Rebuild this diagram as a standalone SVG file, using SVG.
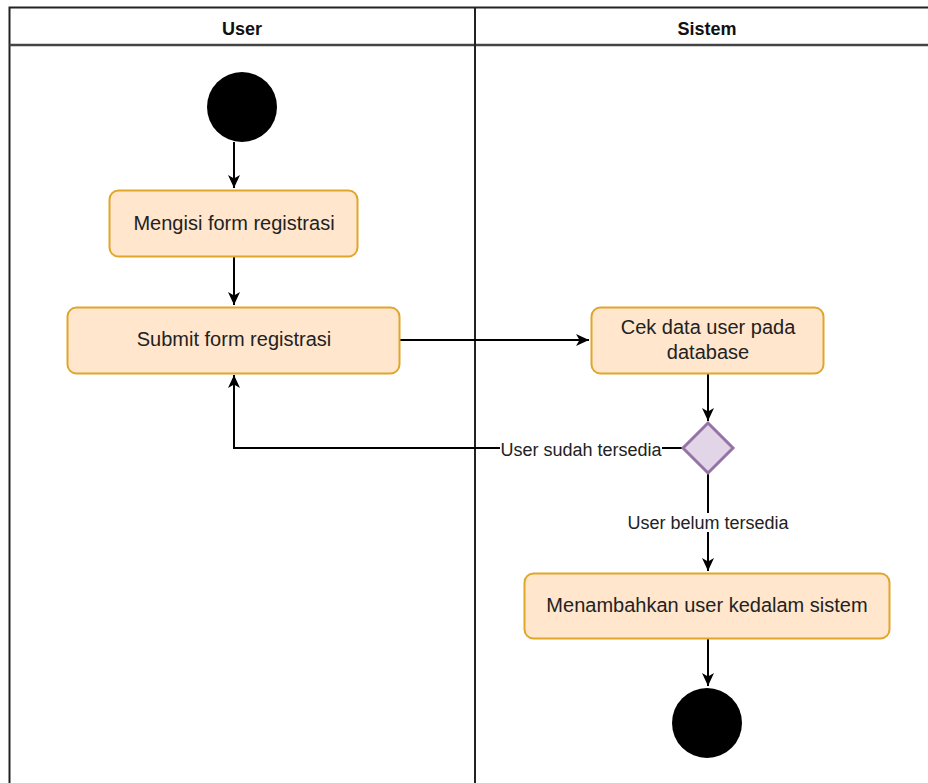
<svg xmlns="http://www.w3.org/2000/svg" width="928" height="783" viewBox="0 0 928 783">
<defs>
<style>
.lane{fill:none;stroke:#222;stroke-width:2}
.hdr{font-family:"Liberation Sans",Arial,sans-serif;font-size:18px;font-weight:bold;fill:#111;text-anchor:middle}
.act{fill:#ffe6cc;stroke:#e0a62a;stroke-width:2}
.txt{font-family:"Liberation Sans",Arial,sans-serif;font-size:20px;fill:#222;text-anchor:middle}
.lbl{font-family:"Liberation Sans",Arial,sans-serif;font-size:18px;fill:#222;text-anchor:middle}
.edge{fill:none;stroke:#000;stroke-width:2}
.dec{fill:#e1d5e7;stroke:#9673a6;stroke-width:3}
</style>
<marker id="ah" viewBox="0 0 14 14" refX="13" refY="7" markerWidth="14" markerHeight="14" markerUnits="userSpaceOnUse" orient="auto">
<path d="M0,1 L13,7 L0,13 L3.5,7 Z" fill="#000"/>
</marker>
</defs>
<rect width="928" height="783" fill="#fff"/>
<g id="swimlanes">
<path class="lane" d="M9.5,790 L9.5,7.5 L940,7.5"/>
<line x1="9.5" y1="45" x2="940" y2="45" stroke="#444" stroke-width="2.5"/>
<line x1="475" y1="7.5" x2="475" y2="790" class="lane"/>
<text class="hdr" x="242" y="35">User</text>
<text class="hdr" x="707" y="35">Sistem</text>
</g>
<g id="connectors">
<path class="edge" d="M234,142 L234,188" marker-end="url(#ah)"/>
<path class="edge" d="M234,257 L234,305" marker-end="url(#ah)"/>
<path class="edge" d="M400,340 L589,340" marker-end="url(#ah)"/>
<path class="edge" d="M708,373 L708,421" marker-end="url(#ah)"/>
<path class="edge" d="M682,448 L234,448 L234,375" marker-end="url(#ah)"/>
<path class="edge" d="M708,473 L708,571" marker-end="url(#ah)"/>
<path class="edge" d="M708,639 L708,686" marker-end="url(#ah)"/>
<rect x="500" y="440" width="162" height="19" fill="#fff"/>
<text class="lbl" x="581" y="456">User sudah tersedia</text>
<rect x="626" y="513" width="164" height="19" fill="#fff"/>
<text class="lbl" x="708" y="529">User belum tersedia</text>
</g>
<g id="start">
<circle cx="242" cy="107" r="35" fill="#000"/>
</g>
<g id="mengisi">
<rect class="act" x="109.5" y="190.5" width="248" height="66" rx="9"/>
<text class="txt" x="234" y="230">Mengisi form registrasi</text>
</g>
<g id="submit">
<rect class="act" x="67.5" y="307.5" width="332" height="66" rx="9"/>
<text class="txt" x="234" y="346">Submit form registrasi</text>
</g>
<g id="cek">
<rect class="act" x="591.5" y="307.5" width="232" height="66" rx="9"/>
<text class="txt" x="708" y="334">Cek data user pada</text>
<text class="txt" x="708" y="359">database</text>
</g>
<g id="decision">
<polygon class="dec" points="708,423 733,448 708,473 683,448"/>
</g>
<g id="menambahkan">
<rect class="act" x="524.5" y="573.5" width="365" height="65" rx="9"/>
<text class="txt" x="707" y="612">Menambahkan user kedalam sistem</text>
</g>
<g id="end">
<circle cx="707" cy="723" r="35" fill="#000"/>
</g>
</svg>
